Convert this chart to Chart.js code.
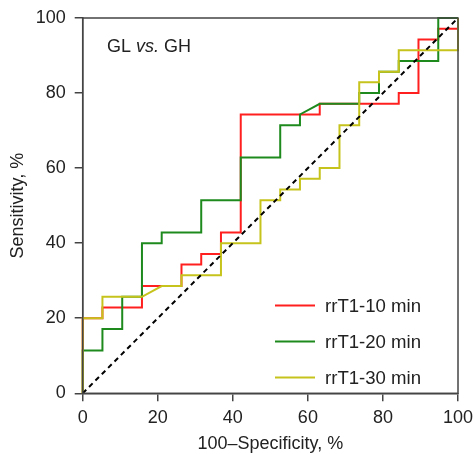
<!DOCTYPE html>
<html>
<head>
<meta charset="utf-8">
<script src="https://cdn.jsdelivr.net/npm/chart.js@4.4.1/dist/chart.umd.min.js"></script>
<style>
  html, body { margin: 0; padding: 0; background: #fff; }
  #wrap { width: 473px; height: 454px; position: relative; }
</style>
</head>
<body>
<div id="wrap"><canvas id="roc"></canvas></div>
<script>
// ROC curves, GL vs. GH (values in %)
const fpr10 = [0, 0, 5.26, 5.26, 15.79, 15.79, 26.32, 26.32, 31.58, 31.58, 36.84, 36.84, 42.11, 42.11, 63.16, 63.16, 84.21, 84.21, 89.47, 89.47, 94.74, 94.74, 100, 100];
const tpr10 = [0, 20, 20, 22.86, 22.86, 28.57, 28.57, 34.29, 34.29, 37.14, 37.14, 42.86, 42.86, 74.29, 74.29, 77.14, 77.14, 80, 80, 94.29, 94.29, 97.14, 97.14, 100];

const fpr20 = [0, 0, 5.26, 5.26, 10.53, 10.53, 15.79, 15.79, 21.05, 21.05, 31.58, 31.58, 42.11, 42.11, 52.63, 52.63, 57.89, 57.89, 63.16, 73.68, 73.68, 78.95, 78.95, 84.21, 84.21, 94.74, 94.74, 100];
const tpr20 = [0, 11.43, 11.43, 17.14, 17.14, 25.71, 25.71, 40, 40, 42.86, 42.86, 51.43, 51.43, 62.86, 62.86, 71.43, 71.43, 74.29, 77.14, 77.14, 80, 80, 85.71, 85.71, 88.57, 88.57, 100, 100];

const fpr30 = [0, 0, 5.26, 5.26, 15.79, 21.05, 26.32, 26.32, 36.84, 36.84, 47.37, 47.37, 52.63, 52.63, 57.89, 57.89, 63.16, 63.16, 68.42, 68.42, 73.68, 73.68, 78.95, 78.95, 84.21, 84.21, 100, 100];
const tpr30 = [0, 20, 20, 25.71, 25.71, 28.57, 28.57, 31.43, 31.43, 40, 40, 51.43, 51.43, 54.29, 54.29, 57.14, 57.14, 60, 60, 71.43, 71.43, 82.86, 82.86, 85.71, 85.71, 91.43, 91.43, 100];

const refX = [0, 100];
const refY = [0, 100];

const seriesNames = ['rrT1-10 min', 'rrT1-20 min', 'rrT1-30 min'];
const axisTicks = [0, 20, 40, 60, 80, 100];

const FONT = 'Liberation Sans, Arial, Helvetica, sans-serif';
const TXT = '#222';
const AXIS = '#444';

const toPts = (xs, ys) => xs.map((x, i) => ({ x: x, y: ys[i] }));

// box round the plot, legend and the "GL vs. GH" note
const decor = {
    id: 'decor',
    afterDatasetsDraw(chart) {
        const { ctx, chartArea: a } = chart;
        ctx.save();
        ctx.strokeStyle = AXIS;
        ctx.lineWidth = 1.5;
        ctx.strokeRect(a.left, a.top, a.right - a.left, a.bottom - a.top);

        ctx.fillStyle = TXT;
        ctx.textBaseline = 'middle';
        ctx.textAlign = 'left';
        let x = 107;
        const y = 47;
        ctx.font = '18px ' + FONT;
        ctx.fillText('GL ', x, y);
        x += ctx.measureText('GL ').width;
        ctx.font = 'italic 18px ' + FONT;
        ctx.fillText('vs.', x, y);
        x += ctx.measureText('vs.').width;
        ctx.font = '18px ' + FONT;
        ctx.fillText(' GH', x, y);

        const rows = [305.5, 341.5, 377.5];
        chart.data.datasets.slice(0, 3).forEach((ds, i) => {
            ctx.strokeStyle = ds.borderColor;
            ctx.lineWidth = 2;
            ctx.beginPath();
            ctx.moveTo(275, rows[i]);
            ctx.lineTo(315, rows[i]);
            ctx.stroke();
            ctx.fillStyle = TXT;
            ctx.font = '18.6px ' + FONT;
            ctx.fillText(ds.label, 325, rows[i] + 1);
        });
        ctx.restore();
    }
};

new Chart(document.getElementById('roc'), {
    type: 'scatter',
    data: {
        datasets: [
            { label: seriesNames[0], data: toPts(fpr10, tpr10), borderColor: '#ff1f1f', order: 3 },
            { label: seriesNames[1], data: toPts(fpr20, tpr20), borderColor: '#1e8a1e', order: 2 },
            { label: seriesNames[2], data: toPts(fpr30, tpr30), borderColor: '#c6c41c', order: 1 },
            { label: 'ref', data: toPts(refX, refY), borderColor: '#000', borderDash: [5, 4], order: 0 }
        ].map(ds => Object.assign({
            showLine: true,
            borderWidth: 2,
            pointRadius: 0,
            pointHoverRadius: 0,
            tension: 0,
            clip: false,
            backgroundColor: ds.borderColor
        }, ds))
    },
    options: {
        responsive: true,
        maintainAspectRatio: false,
        animation: false,
        events: [],
        layout: { padding: { top: 18, right: 15, left: 0, bottom: 0 } },
        plugins: {
            legend: { display: false },
            tooltip: { enabled: false }
        },
        scales: {
            x: {
                type: 'linear',
                min: 0, max: 100,
                afterBuildTicks: s => { s.ticks = axisTicks.map(v => ({ value: v })); },
                afterFit: s => { s.height = 60.7; s.paddingLeft = 0; s.paddingRight = 0; },
                grid: { drawOnChartArea: false, drawTicks: true, tickLength: 8, color: AXIS, lineWidth: 1.5 },
                border: { color: AXIS, width: 1.5 },
                ticks: { color: TXT, font: { family: FONT, size: 18 }, padding: 6, maxRotation: 0 },
                title: { display: true, text: '100–Specificity, %', color: TXT, font: { family: FONT, size: 18 }, padding: { top: 0, bottom: -1 } }
            },
            y: {
                type: 'linear',
                min: 0, max: 100,
                afterBuildTicks: s => { s.ticks = axisTicks.map(v => ({ value: v })); },
                afterFit: s => { s.width = 82.7; s.paddingTop = 0; s.paddingBottom = 0; },
                grid: { drawOnChartArea: false, drawTicks: true, tickLength: 8, color: AXIS, lineWidth: 1.5 },
                border: { color: AXIS, width: 1.5 },
                ticks: { color: TXT, font: { family: FONT, size: 18 }, padding: 9 },
                title: { display: true, text: 'Sensitivity, %', color: TXT, font: { family: FONT, size: 18 }, padding: { top: 7, bottom: 0 } }
            }
        }
    },
    plugins: [decor]
});
</script>
</body>
</html>
